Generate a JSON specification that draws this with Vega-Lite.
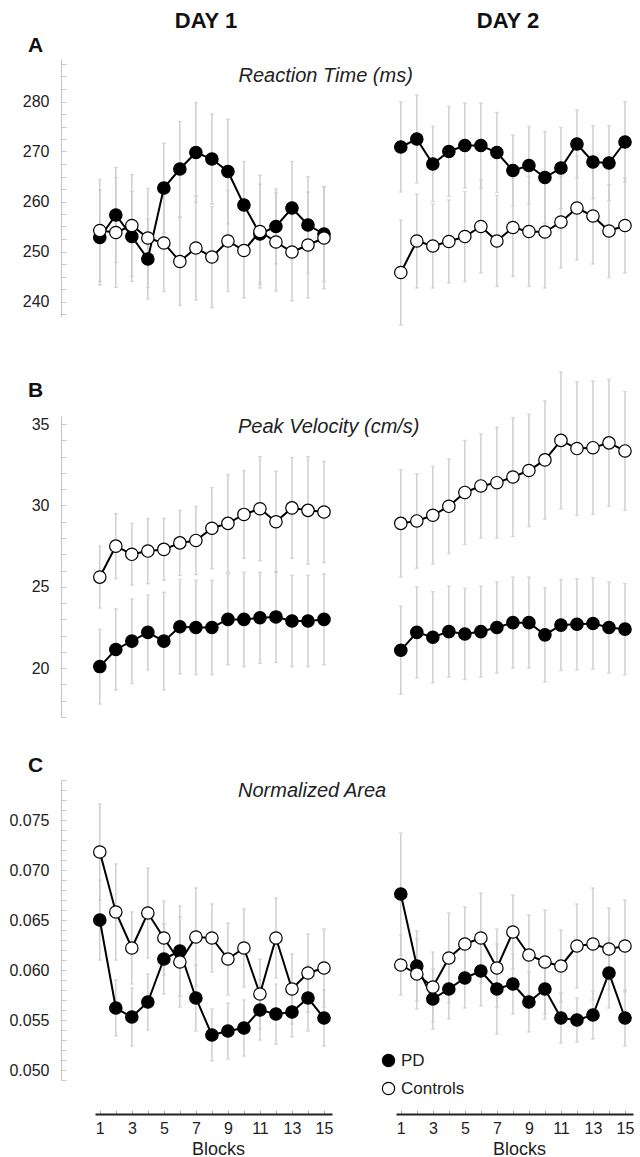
{
  "$schema": "https://vega.github.io/schema/vega-lite/v6.json",
  "autosize": {"type": "pad"},
  "padding": {"left": 8, "top": 9, "right": 5, "bottom": 2},
  "background": "white",
  "config": {
    "font": "Liberation Sans",
    "view": {"stroke": null},
    "axis": {"grid": false},
    "legend": {"labelFont": "Liberation Sans"}
  },
  "datasets": {
    "rt1": [
      {"g":"PD","b":1,"v":252.8,"e":9.5},{"g":"PD","b":2,"v":257.3,"e":9.5},{"g":"PD","b":3,"v":253,"e":9},{"g":"PD","b":4,"v":248.5,"e":8},{"g":"PD","b":5,"v":262.7,"e":9},{"g":"PD","b":6,"v":266.5,"e":9.5},{"g":"PD","b":7,"v":269.8,"e":10},{"g":"PD","b":8,"v":268.5,"e":9},{"g":"PD","b":9,"v":266,"e":10.5},{"g":"PD","b":10,"v":259.3,"e":8.7},{"g":"PD","b":11,"v":253.5,"e":10},{"g":"PD","b":12,"v":255,"e":7.5},{"g":"PD","b":13,"v":258.7,"e":9.3},{"g":"PD","b":14,"v":255.3,"e":9.7},{"g":"PD","b":15,"v":253.5,"e":9.5},
      {"g":"Controls","b":1,"v":254.2,"e":10.2},{"g":"Controls","b":2,"v":253.8,"e":11},{"g":"Controls","b":3,"v":255.2,"e":10.2},{"g":"Controls","b":4,"v":252.7,"e":9.9},{"g":"Controls","b":5,"v":251.7,"e":9.7},{"g":"Controls","b":6,"v":248,"e":8.8},{"g":"Controls","b":7,"v":250.7,"e":10.4},{"g":"Controls","b":8,"v":248.9,"e":10.1},{"g":"Controls","b":9,"v":252.1,"e":10.1},{"g":"Controls","b":10,"v":250.2,"e":9.5},{"g":"Controls","b":11,"v":254,"e":11.3},{"g":"Controls","b":12,"v":251.9,"e":9.8},{"g":"Controls","b":13,"v":249.9,"e":9.8},{"g":"Controls","b":14,"v":251.3,"e":10.6},{"g":"Controls","b":15,"v":252.7,"e":10.2}
    ],
    "rt2": [
      {"g":"PD","b":1,"v":270.9,"e":9},{"g":"PD","b":2,"v":272.5,"e":8.8},{"g":"PD","b":3,"v":267.5,"e":7.5},{"g":"PD","b":4,"v":270,"e":9},{"g":"PD","b":5,"v":271.2,"e":8.5},{"g":"PD","b":6,"v":271.2,"e":8.5},{"g":"PD","b":7,"v":269.8,"e":8},{"g":"PD","b":8,"v":266.2,"e":7.1},{"g":"PD","b":9,"v":267.2,"e":7.8},{"g":"PD","b":10,"v":264.8,"e":9.2},{"g":"PD","b":11,"v":266.7,"e":8.1},{"g":"PD","b":12,"v":271.5,"e":6.8},{"g":"PD","b":13,"v":267.9,"e":7.3},{"g":"PD","b":14,"v":267.7,"e":7.5},{"g":"PD","b":15,"v":271.9,"e":8.1},
      {"g":"Controls","b":1,"v":245.8,"e":10.5},{"g":"Controls","b":2,"v":252.1,"e":9.4},{"g":"Controls","b":3,"v":251.1,"e":8.4},{"g":"Controls","b":4,"v":252,"e":8.3},{"g":"Controls","b":5,"v":253,"e":9},{"g":"Controls","b":6,"v":255,"e":9.3},{"g":"Controls","b":7,"v":252.1,"e":9.1},{"g":"Controls","b":8,"v":254.8,"e":9.8},{"g":"Controls","b":9,"v":254,"e":11},{"g":"Controls","b":10,"v":253.9,"e":11.2},{"g":"Controls","b":11,"v":255.9,"e":9.2},{"g":"Controls","b":12,"v":258.7,"e":10.4},{"g":"Controls","b":13,"v":257.1,"e":9.6},{"g":"Controls","b":14,"v":254.1,"e":9.3},{"g":"Controls","b":15,"v":255.2,"e":9.5}
    ],
    "pv1": [
      {"g":"PD","b":1,"v":20.1,"e":2.3},{"g":"PD","b":2,"v":21.15,"e":2.5},{"g":"PD","b":3,"v":21.66,"e":2.6},{"g":"PD","b":4,"v":22.2,"e":2.3},{"g":"PD","b":5,"v":21.66,"e":3},{"g":"PD","b":6,"v":22.55,"e":2.9},{"g":"PD","b":7,"v":22.5,"e":2.9},{"g":"PD","b":8,"v":22.5,"e":2.9},{"g":"PD","b":9,"v":23,"e":2.8},{"g":"PD","b":10,"v":23,"e":2.9},{"g":"PD","b":11,"v":23.1,"e":2.8},{"g":"PD","b":12,"v":23.15,"e":2.8},{"g":"PD","b":13,"v":22.9,"e":2.8},{"g":"PD","b":14,"v":22.9,"e":2.8},{"g":"PD","b":15,"v":23,"e":2.8},
      {"g":"Controls","b":1,"v":25.6,"e":1.9},{"g":"Controls","b":2,"v":27.5,"e":2},{"g":"Controls","b":3,"v":27,"e":1.9},{"g":"Controls","b":4,"v":27.2,"e":2},{"g":"Controls","b":5,"v":27.3,"e":1.9},{"g":"Controls","b":6,"v":27.7,"e":2},{"g":"Controls","b":7,"v":27.85,"e":2.1},{"g":"Controls","b":8,"v":28.6,"e":2.5},{"g":"Controls","b":9,"v":28.9,"e":3},{"g":"Controls","b":10,"v":29.45,"e":2.7},{"g":"Controls","b":11,"v":29.8,"e":3.2},{"g":"Controls","b":12,"v":29,"e":3.1},{"g":"Controls","b":13,"v":29.85,"e":3.1},{"g":"Controls","b":14,"v":29.7,"e":3.3},{"g":"Controls","b":15,"v":29.6,"e":3.1}
    ],
    "pv2": [
      {"g":"PD","b":1,"v":21.1,"e":2.7},{"g":"PD","b":2,"v":22.2,"e":2.8},{"g":"PD","b":3,"v":21.9,"e":2.8},{"g":"PD","b":4,"v":22.25,"e":2.8},{"g":"PD","b":5,"v":22.1,"e":2.8},{"g":"PD","b":6,"v":22.25,"e":2.8},{"g":"PD","b":7,"v":22.5,"e":2.8},{"g":"PD","b":8,"v":22.8,"e":2.8},{"g":"PD","b":9,"v":22.8,"e":2.8},{"g":"PD","b":10,"v":22.05,"e":2.9},{"g":"PD","b":11,"v":22.65,"e":2.8},{"g":"PD","b":12,"v":22.7,"e":2.8},{"g":"PD","b":13,"v":22.75,"e":2.8},{"g":"PD","b":14,"v":22.5,"e":2.8},{"g":"PD","b":15,"v":22.4,"e":2.8},
      {"g":"Controls","b":1,"v":28.9,"e":3.3},{"g":"Controls","b":2,"v":29.05,"e":2.9},{"g":"Controls","b":3,"v":29.4,"e":3},{"g":"Controls","b":4,"v":29.95,"e":2.9},{"g":"Controls","b":5,"v":30.8,"e":3.2},{"g":"Controls","b":6,"v":31.2,"e":3.2},{"g":"Controls","b":7,"v":31.4,"e":3.4},{"g":"Controls","b":8,"v":31.75,"e":3.65},{"g":"Controls","b":9,"v":32.15,"e":3.45},{"g":"Controls","b":10,"v":32.8,"e":3.65},{"g":"Controls","b":11,"v":34,"e":4.2},{"g":"Controls","b":12,"v":33.5,"e":4.1},{"g":"Controls","b":13,"v":33.55,"e":4.1},{"g":"Controls","b":14,"v":33.85,"e":3.9},{"g":"Controls","b":15,"v":33.35,"e":3.65}
    ],
    "na1": [
      {"g":"PD","b":1,"v":0.065,"e":0.004},{"g":"PD","b":2,"v":0.0562,"e":0.0028},{"g":"PD","b":3,"v":0.0553,"e":0.0029},{"g":"PD","b":4,"v":0.0568,"e":0.0028},{"g":"PD","b":5,"v":0.0611,"e":0.0035},{"g":"PD","b":6,"v":0.0619,"e":0.0045},{"g":"PD","b":7,"v":0.0572,"e":0.0033},{"g":"PD","b":8,"v":0.0535,"e":0.0026},{"g":"PD","b":9,"v":0.0539,"e":0.0028},{"g":"PD","b":10,"v":0.0542,"e":0.0028},{"g":"PD","b":11,"v":0.056,"e":0.003},{"g":"PD","b":12,"v":0.0556,"e":0.003},{"g":"PD","b":13,"v":0.0558,"e":0.0025},{"g":"PD","b":14,"v":0.0572,"e":0.0033},{"g":"PD","b":15,"v":0.0552,"e":0.0028},
      {"g":"Controls","b":1,"v":0.0718,"e":0.0048},{"g":"Controls","b":2,"v":0.0658,"e":0.0048},{"g":"Controls","b":3,"v":0.0622,"e":0.0036},{"g":"Controls","b":4,"v":0.0657,"e":0.0045},{"g":"Controls","b":5,"v":0.0632,"e":0.0037},{"g":"Controls","b":6,"v":0.0608,"e":0.0045},{"g":"Controls","b":7,"v":0.0633,"e":0.0049},{"g":"Controls","b":8,"v":0.0632,"e":0.0034},{"g":"Controls","b":9,"v":0.0611,"e":0.0036},{"g":"Controls","b":10,"v":0.0622,"e":0.0039},{"g":"Controls","b":11,"v":0.0576,"e":0.0035},{"g":"Controls","b":12,"v":0.0632,"e":0.004},{"g":"Controls","b":13,"v":0.0581,"e":0.0035},{"g":"Controls","b":14,"v":0.0597,"e":0.0039},{"g":"Controls","b":15,"v":0.0602,"e":0.0039}
    ],
    "na2": [
      {"g":"PD","b":1,"v":0.0676,"e":0.0061},{"g":"PD","b":2,"v":0.0604,"e":0.0035},{"g":"PD","b":3,"v":0.0571,"e":0.003},{"g":"PD","b":4,"v":0.0581,"e":0.003},{"g":"PD","b":5,"v":0.0592,"e":0.003},{"g":"PD","b":6,"v":0.0599,"e":0.0035},{"g":"PD","b":7,"v":0.0581,"e":0.0045},{"g":"PD","b":8,"v":0.0586,"e":0.003},{"g":"PD","b":9,"v":0.0568,"e":0.003},{"g":"PD","b":10,"v":0.0581,"e":0.003},{"g":"PD","b":11,"v":0.0552,"e":0.0025},{"g":"PD","b":12,"v":0.055,"e":0.0022},{"g":"PD","b":13,"v":0.0555,"e":0.0024},{"g":"PD","b":14,"v":0.0597,"e":0.0035},{"g":"PD","b":15,"v":0.0552,"e":0.0028},
      {"g":"Controls","b":1,"v":0.0605,"e":0.003},{"g":"Controls","b":2,"v":0.0596,"e":0.0035},{"g":"Controls","b":3,"v":0.0583,"e":0.0035},{"g":"Controls","b":4,"v":0.0612,"e":0.0045},{"g":"Controls","b":5,"v":0.0626,"e":0.0037},{"g":"Controls","b":6,"v":0.0632,"e":0.0045},{"g":"Controls","b":7,"v":0.0602,"e":0.0039},{"g":"Controls","b":8,"v":0.0638,"e":0.0037},{"g":"Controls","b":9,"v":0.0615,"e":0.004},{"g":"Controls","b":10,"v":0.0608,"e":0.0052},{"g":"Controls","b":11,"v":0.0604,"e":0.0036},{"g":"Controls","b":12,"v":0.0624,"e":0.0042},{"g":"Controls","b":13,"v":0.0626,"e":0.0056},{"g":"Controls","b":14,"v":0.0621,"e":0.0041},{"g":"Controls","b":15,"v":0.0624,"e":0.0046}
    ]
  },
  "columns": 2,
  "spacing": {"row": 63, "column": 64},
  "bounds": "flush",
  "resolve": {"scale": {"fill": "independent"}, "legend": {"fill": "independent"}},
  "concat": [
    {
      "width": 237, "height": 294,
      "data": {"name": "rt1"},
      "title": {"text": "DAY 1", "anchor": "start", "frame": "group", "dx": 111, "align": "center", "offset": -15.5, "baseline": "alphabetic", "fontSize": 22, "fontWeight": "bold", "color": "#111"},
      "encoding": {
        "x": {"field": "b", "type": "quantitative", "scale": {"domain": [0.7, 15.5], "nice": false, "zero": false},
          "axis": {"orient": "top", "domain": false, "ticks": false, "labels": false, "title": "Reaction Time (ms)", "titleX": 143, "titleY": 22, "titleAlign": "left", "titleBaseline": "alphabetic", "titleFontStyle": "italic", "titleFontWeight": "normal", "titleFontSize": 20, "titleColor": "#222"}},
        "y": {"field": "v", "type": "quantitative", "scale": {"domain": [237, 288.5], "range": [257.5, 0], "nice": false, "zero": false},
          "axis": {"offset": 34, "domainColor": "#c8c8c8", "domainWidth": 1.2, "tickColor": "#c8c8c8", "tickSize": -5, "labelFontSize": 16, "labelColor": "#222", "labelPadding": 17, "labelOverlap": false, "labelBound": false, "labelFlush": false,
            "values": [237.5,240,242.5,245,247.5,250,252.5,255,257.5,260,262.5,265,267.5,270,272.5,275,277.5,280,282.5,285,287.5],
            "labelExpr": "datum.value % 10 === 0 ? datum.label : ''",
            "title": "A", "titleAngle": 0, "titleAlign": "center", "titleBaseline": "alphabetic", "titleFontSize": 21, "titleFontWeight": "bold", "titleColor": "#111", "titleX": -26, "titleY": -8}}
      },
      "layer": [
        {"mark": {"type": "errorbar", "ticks": true, "size": 4, "thickness": 1.4, "color": "#cccccc"}, "encoding": {"yError": {"field": "e"}}},
        {"mark": {"type": "line", "color": "black", "strokeWidth": 2}, "encoding": {"detail": {"field": "g"}}},
        {"mark": {"type": "point", "shape": "circle", "filled": true, "size": 154, "stroke": "black", "strokeWidth": 1.2, "opacity": 1, "fillOpacity": 1},
         "encoding": {"fill": {"field": "g", "type": "nominal", "scale": {"domain": ["PD", "Controls"], "range": ["black", "white"]}, "legend": null}}}
      ]
    },
    {
      "width": 237, "height": 294,
      "data": {"name": "rt2"},
      "title": {"text": "DAY 2", "anchor": "start", "frame": "group", "dx": 112, "align": "center", "offset": 9.5, "baseline": "alphabetic", "fontSize": 22, "fontWeight": "bold", "color": "#111"},
      "encoding": {
        "x": {"field": "b", "type": "quantitative", "scale": {"domain": [0.7, 15.5], "nice": false, "zero": false}, "axis": null},
        "y": {"field": "v", "type": "quantitative", "scale": {"domain": [237, 288.5], "range": [257.5, 0], "nice": false, "zero": false}, "axis": null}
      },
      "layer": [
        {"mark": {"type": "errorbar", "ticks": true, "size": 4, "thickness": 1.4, "color": "#cccccc"}, "encoding": {"yError": {"field": "e"}}},
        {"mark": {"type": "line", "color": "black", "strokeWidth": 2}, "encoding": {"detail": {"field": "g"}}},
        {"mark": {"type": "point", "shape": "circle", "filled": true, "size": 154, "stroke": "black", "strokeWidth": 1.2, "opacity": 1, "fillOpacity": 1},
         "encoding": {"fill": {"field": "g", "type": "nominal", "scale": {"domain": ["PD", "Controls"], "range": ["black", "white"]}, "legend": null}}}
      ]
    },
    {
      "width": 237, "height": 301,
      "data": {"name": "pv1"},
      "title": {"text": "Peak Velocity (cm/s)", "anchor": "start", "frame": "group", "dx": 143, "align": "left", "offset": -74, "baseline": "alphabetic", "fontSize": 20, "fontWeight": "normal", "fontStyle": "italic", "color": "#222"},
      "encoding": {
        "x": {"field": "b", "type": "quantitative", "scale": {"domain": [0.7, 15.5], "nice": false, "zero": false}, "axis": null},
        "y": {"field": "v", "type": "quantitative", "scale": {"domain": [17, 35.5], "nice": false, "zero": false},
          "axis": {"offset": 34, "domainColor": "#c8c8c8", "domainWidth": 1.2, "tickColor": "#c8c8c8", "tickSize": -5, "labelFontSize": 16, "labelColor": "#222", "labelPadding": 17, "labelOverlap": false, "labelBound": false, "labelFlush": false,
            "values": [17,18,19,20,21,22,23,24,25,26,27,28,29,30,31,32,33,34,35],
            "labelExpr": "datum.value % 5 === 0 ? datum.label : ''",
            "title": "B", "titleAngle": 0, "titleAlign": "center", "titleBaseline": "alphabetic", "titleFontSize": 21, "titleFontWeight": "bold", "titleColor": "#111", "titleX": -26, "titleY": -20}}
      },
      "layer": [
        {"mark": {"type": "errorbar", "ticks": true, "size": 4, "thickness": 1.4, "color": "#cccccc"}, "encoding": {"yError": {"field": "e"}}},
        {"mark": {"type": "line", "color": "black", "strokeWidth": 2}, "encoding": {"detail": {"field": "g"}}},
        {"mark": {"type": "point", "shape": "circle", "filled": true, "size": 154, "stroke": "black", "strokeWidth": 1.2, "opacity": 1, "fillOpacity": 1},
         "encoding": {"fill": {"field": "g", "type": "nominal", "scale": {"domain": ["PD", "Controls"], "range": ["black", "white"]}, "legend": null}}}
      ]
    },
    {
      "width": 237, "height": 301,
      "data": {"name": "pv2"},
      "encoding": {
        "x": {"field": "b", "type": "quantitative", "scale": {"domain": [0.7, 15.5], "nice": false, "zero": false}, "axis": null},
        "y": {"field": "v", "type": "quantitative", "scale": {"domain": [17, 35.5], "nice": false, "zero": false}, "axis": null}
      },
      "layer": [
        {"mark": {"type": "errorbar", "ticks": true, "size": 4, "thickness": 1.4, "color": "#cccccc"}, "encoding": {"yError": {"field": "e"}}},
        {"mark": {"type": "line", "color": "black", "strokeWidth": 2}, "encoding": {"detail": {"field": "g"}}},
        {"mark": {"type": "point", "shape": "circle", "filled": true, "size": 154, "stroke": "black", "strokeWidth": 1.2, "opacity": 1, "fillOpacity": 1},
         "encoding": {"fill": {"field": "g", "type": "nominal", "scale": {"domain": ["PD", "Controls"], "range": ["black", "white"]}, "legend": null}}}
      ]
    },
    {
      "width": 237, "height": 300,
      "data": {"name": "na1"},
      "title": {"text": "Normalized Area", "anchor": "start", "frame": "group", "dx": 143, "align": "left", "offset": -63, "baseline": "alphabetic", "fontSize": 20, "fontWeight": "normal", "fontStyle": "italic", "color": "#222"},
      "encoding": {
        "x": {"field": "b", "type": "quantitative", "scale": {"domain": [0.7, 15.5], "nice": false, "zero": false},
          "axis": {"orient": "bottom", "offset": 34, "values": [1,2,3,4,5,6,7,8,9,10,11,12,13,14,15], "labelExpr": "datum.value % 2 === 1 ? datum.label : ''", "domainColor": "#222", "domainWidth": 2, "tickColor": "#aaaaaa", "tickSize": -4, "labelFontSize": 16, "labelColor": "#222", "labelPadding": 10, "labelFlush": false, "labelOverlap": false, "labelBound": false,
            "title": "Blocks", "titleFontSize": 18, "titleFontWeight": "normal", "titleColor": "#222", "titleX": 123, "titleY": 40, "titleBaseline": "alphabetic", "titleAlign": "center"}},
        "y": {"field": "v", "type": "quantitative", "scale": {"domain": [0.049, 0.079], "nice": false, "zero": false},
          "axis": {"offset": 34, "domainColor": "#c8c8c8", "domainWidth": 1.2, "tickColor": "#c8c8c8", "tickSize": -5, "labelFontSize": 16, "labelColor": "#222", "labelPadding": 17, "labelOverlap": false, "labelBound": false, "labelFlush": false,
            "values": [0.049,0.05,0.051,0.052,0.053,0.054,0.055,0.056,0.057,0.058,0.059,0.06,0.061,0.062,0.063,0.064,0.065,0.066,0.067,0.068,0.069,0.07,0.071,0.072,0.073,0.074,0.075,0.076,0.077,0.078,0.079],
            "labelExpr": "abs(round(datum.value*1000) % 5) === 0 ? format(datum.value, '.3f') : ''",
            "title": "C", "titleAngle": 0, "titleAlign": "center", "titleBaseline": "alphabetic", "titleFontSize": 21, "titleFontWeight": "bold", "titleColor": "#111", "titleX": -26, "titleY": -9}}
      },
      "layer": [
        {"mark": {"type": "errorbar", "ticks": true, "size": 4, "thickness": 1.4, "color": "#cccccc"}, "encoding": {"yError": {"field": "e"}}},
        {"mark": {"type": "line", "color": "black", "strokeWidth": 2}, "encoding": {"detail": {"field": "g"}}},
        {"mark": {"type": "point", "shape": "circle", "filled": true, "size": 154, "stroke": "black", "strokeWidth": 1.2, "opacity": 1, "fillOpacity": 1},
         "encoding": {"fill": {"field": "g", "type": "nominal", "scale": {"domain": ["PD", "Controls"], "range": ["black", "white"]}, "legend": null}}}
      ]
    },
    {
      "width": 237, "height": 300,
      "data": {"name": "na2"},
      "encoding": {
        "x": {"field": "b", "type": "quantitative", "scale": {"domain": [0.7, 15.5], "nice": false, "zero": false},
          "axis": {"orient": "bottom", "offset": 34, "values": [1,2,3,4,5,6,7,8,9,10,11,12,13,14,15], "labelExpr": "datum.value % 2 === 1 ? datum.label : ''", "domainColor": "#222", "domainWidth": 2, "tickColor": "#aaaaaa", "tickSize": -4, "labelFontSize": 16, "labelColor": "#222", "labelPadding": 10, "labelFlush": false, "labelOverlap": false, "labelBound": false,
            "title": "Blocks", "titleFontSize": 18, "titleFontWeight": "normal", "titleColor": "#222", "titleX": 123, "titleY": 40, "titleBaseline": "alphabetic", "titleAlign": "center"}},
        "y": {"field": "v", "type": "quantitative", "scale": {"domain": [0.049, 0.079], "nice": false, "zero": false}, "axis": null}
      },
      "layer": [
        {"mark": {"type": "errorbar", "ticks": true, "size": 4, "thickness": 1.4, "color": "#cccccc"}, "encoding": {"yError": {"field": "e"}}},
        {"mark": {"type": "line", "color": "black", "strokeWidth": 2}, "encoding": {"detail": {"field": "g"}}},
        {"mark": {"type": "point", "shape": "circle", "filled": true, "size": 154, "stroke": "black", "strokeWidth": 1.2, "opacity": 1, "fillOpacity": 1},
         "encoding": {"fill": {"field": "g", "type": "nominal", "scale": {"domain": ["PD", "Controls"], "range": ["black", "white"]},
           "legend": {"orient": "none", "legendX": -16, "legendY": 272, "title": null, "symbolType": "circle", "symbolSize": 150, "symbolStrokeColor": "black", "symbolStrokeWidth": 1.2, "symbolOpacity": 1, "labelFontSize": 17, "labelColor": "#222", "rowPadding": 9, "labelOffset": 4, "padding": 0}}}}
      ]
    }
  ]
}
